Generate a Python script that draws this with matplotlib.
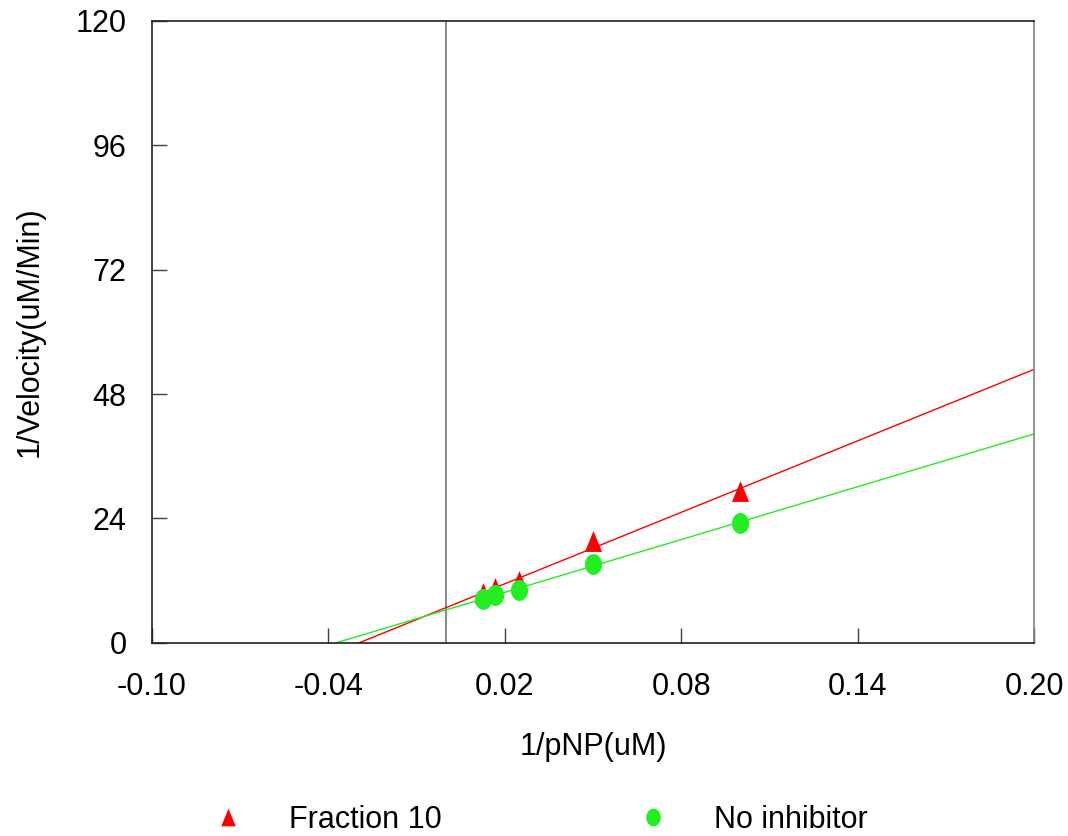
import numpy as np
import matplotlib
matplotlib.use("Agg")
import matplotlib.pyplot as plt
from matplotlib.path import Path

# Lineweaver-Burk plot data
inv_substrate = [0.0125, 0.01667, 0.025, 0.05, 0.1]
fraction10 = [9.5, 10.5, 11.9, 19.6, 29.3]
no_inhibitor = [8.4, 9.3, 10.2, 15.2, 23.2]

xticks = [-0.10, -0.04, 0.02, 0.08, 0.14, 0.20]
yticks = [0, 24, 48, 72, 96, 120]

plt.rcParams['font.family'] = ['Liberation Sans', 'DejaVu Sans']
FS = 22

# slightly tall markers, like the original
t = np.linspace(0, 2 * np.pi, 60)
ellipse = Path(np.column_stack([0.82 * np.cos(t), np.sin(t)]), closed=True)
tri = Path([(-0.82, -1), (0.82, -1), (0, 1), (-0.82, -1)], closed=True)

fig = plt.figure(figsize=(10.68, 8.36), dpi=100)
ax = fig.add_axes([0.1419, 0.2312, 0.8267, 0.7437])

red = '#ff0000'
green = '#22ee22'

# regression lines from x-intercept up to the right edge
x = np.array(inv_substrate)
for ys, col in [(fraction10, red), (no_inhibitor, green)]:
    m, b = np.polyfit(x, np.array(ys), 1)
    xs = np.array([-b / m, 0.20])
    ax.plot(xs, m * xs + b, color=col, lw=1.0, zorder=2)

ax.axvline(0, color='#808080', lw=1.3, zorder=1)

ax.plot(inv_substrate, fraction10, marker=tri, ls='none', color=red, ms=15,
        mew=0, zorder=3, label='Fraction 10')
ax.plot(inv_substrate, no_inhibitor, marker=ellipse, ls='none', color=green,
        ms=15, mew=0, zorder=4, label='No inhibitor')

ax.set_xlim(-0.10, 0.20)
ax.set_ylim(0, 120)
ax.set_xticks(xticks)
ax.set_xticklabels([f'{v:.2f}' for v in xticks])
ax.set_yticks(yticks)
ax.tick_params(direction='in', length=11, width=1, color='#404040',
               labelsize=FS)
ax.tick_params(axis='x', pad=21)
ax.tick_params(axis='y', pad=18)

for side in ['left', 'bottom', 'top']:
    ax.spines[side].set_color('#202020')
ax.spines['right'].set_color('#808080')
for s in ax.spines.values():
    s.set_linewidth(1.2)

ax.set_xlabel('1/pNP(uM)', fontsize=FS, labelpad=22)
ax.set_ylabel('1/Velocity(uM/Min)', fontsize=FS, labelpad=22)

handles, labels = ax.get_legend_handles_labels()
leg = fig.legend(handles, labels, loc='center', bbox_to_anchor=(0.506, 0.019),
                 ncol=2, frameon=False, fontsize=FS, handlelength=1.0,
                 handletextpad=1.5, columnspacing=6.4, markerscale=0.85,
                 borderpad=0)

fig.savefig('out.png', dpi=100)
